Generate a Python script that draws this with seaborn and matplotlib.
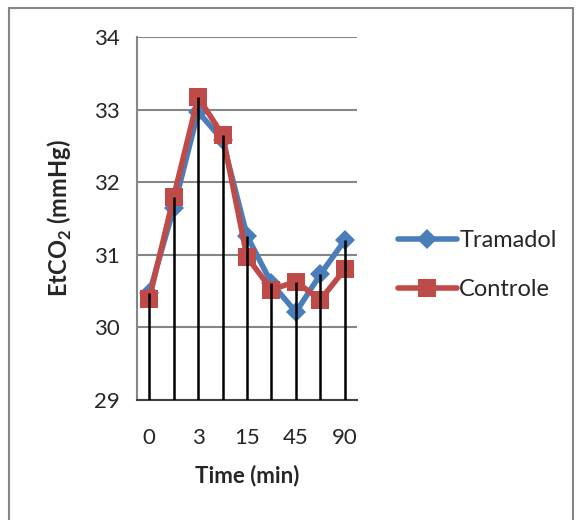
import numpy as np
import pandas as pd
import matplotlib
matplotlib.use("Agg")
import matplotlib.pyplot as plt
import seaborn as sns
from matplotlib.patches import Rectangle
from matplotlib.lines import Line2D

# 数据
time_labels = ["0", "1", "3", "5", "15", "30", "45", "60", "90"]
tramadol = [30.47, 31.64, 32.97, 32.58, 31.26, 30.61, 30.21, 30.73, 31.20]
controle = [30.39, 31.80, 33.17, 32.65, 30.97, 30.52, 30.63, 30.38, 30.80]
series_names = ["Tramadol", "Controle"]
y_ticks = [29, 30, 31, 32, 33, 34]

sns.set_style("white")
plt.rcParams['font.family'] = ['Lato', 'DejaVu Sans']
plt.rcParams['mathtext.fontset'] = 'custom'
plt.rcParams['mathtext.bf'] = 'Lato:bold'
plt.rcParams['mathtext.rm'] = 'Lato'

idx = np.arange(len(time_labels))
df = pd.DataFrame({
    "idx": np.concatenate([idx, idx]),
    "value": tramadol + controle,
    "serie": [series_names[0]] * len(idx) + [series_names[1]] * len(idx),
})

fig = plt.figure(figsize=(5.81, 5.2), dpi=100)
ax = fig.add_axes([0.2358, 0.2308, 0.3787, 0.698])

palette = {"Tramadol": "#4A7EBB", "Controle": "#BE4B48"}
sns.lineplot(data=df, x="idx", y="value", hue="serie", style="serie",
             markers={"Tramadol": "D", "Controle": "s"},
             dashes=False, palette=palette, linewidth=4,
             markersize=10.5, markeredgewidth=0, ax=ax, legend=False,
             zorder=3)
# 方块略大
for line in ax.lines:
    if line.get_marker() == "s":
        line.set_markersize(12.5)

# 垂直线（从底部到最高点）
tops = np.maximum(tramadol, controle)
ax.vlines(idx, y_ticks[0], tops, colors="black", linewidth=1.8, zorder=5)

ax.set_xlim(-0.5, len(idx) - 0.5)
ax.set_ylim(y_ticks[0], y_ticks[-1])
ax.set_yticks(y_ticks)
ax.set_xticks(idx[::2])
ax.set_xticklabels(time_labels[::2])
ax.tick_params(axis="y", direction="out", length=6.5, width=1.5,
               color="#868686", labelsize=16, pad=6)
ax.tick_params(axis="x", length=0, labelsize=16, pad=20)
ax.yaxis.grid(True, color="#868686", linewidth=1.5)
ax.set_axisbelow(True)

for side in ["top", "right"]:
    ax.spines[side].set_visible(False)
ax.spines["left"].set_color("#868686")
ax.spines["left"].set_linewidth(1.5)
ax.spines["bottom"].set_color("#404040")
ax.spines["bottom"].set_linewidth(1.5)

ax.set_xlabel("Time (min)", fontsize=16, fontweight="bold", labelpad=12)
ax.set_ylabel(r"EtCO$_\mathbf{2}$ (mmHg)", fontsize=17, fontweight="bold", labelpad=14)

# 图例
handles = [
    Line2D([], [], color=palette["Tramadol"], marker="D", markersize=10.5,
           markeredgewidth=0, linewidth=4),
    Line2D([], [], color=palette["Controle"], marker="s", markersize=12.5,
           markeredgewidth=0, linewidth=4),
]
fig.legend(handles, series_names, loc="center left",
           bbox_to_anchor=(0.648, 0.49), frameon=False, fontsize=17,
           handlelength=2.5, handletextpad=0.1, labelspacing=1.2)

# 外框
fig.patches.append(Rectangle((9 / 581, -0.1), (573 - 9) / 581, 1.1 - 8 / 520,
                             transform=fig.transFigure, fill=False,
                             edgecolor="#868686", linewidth=1.5))

fig.savefig("out.png", dpi=100)
